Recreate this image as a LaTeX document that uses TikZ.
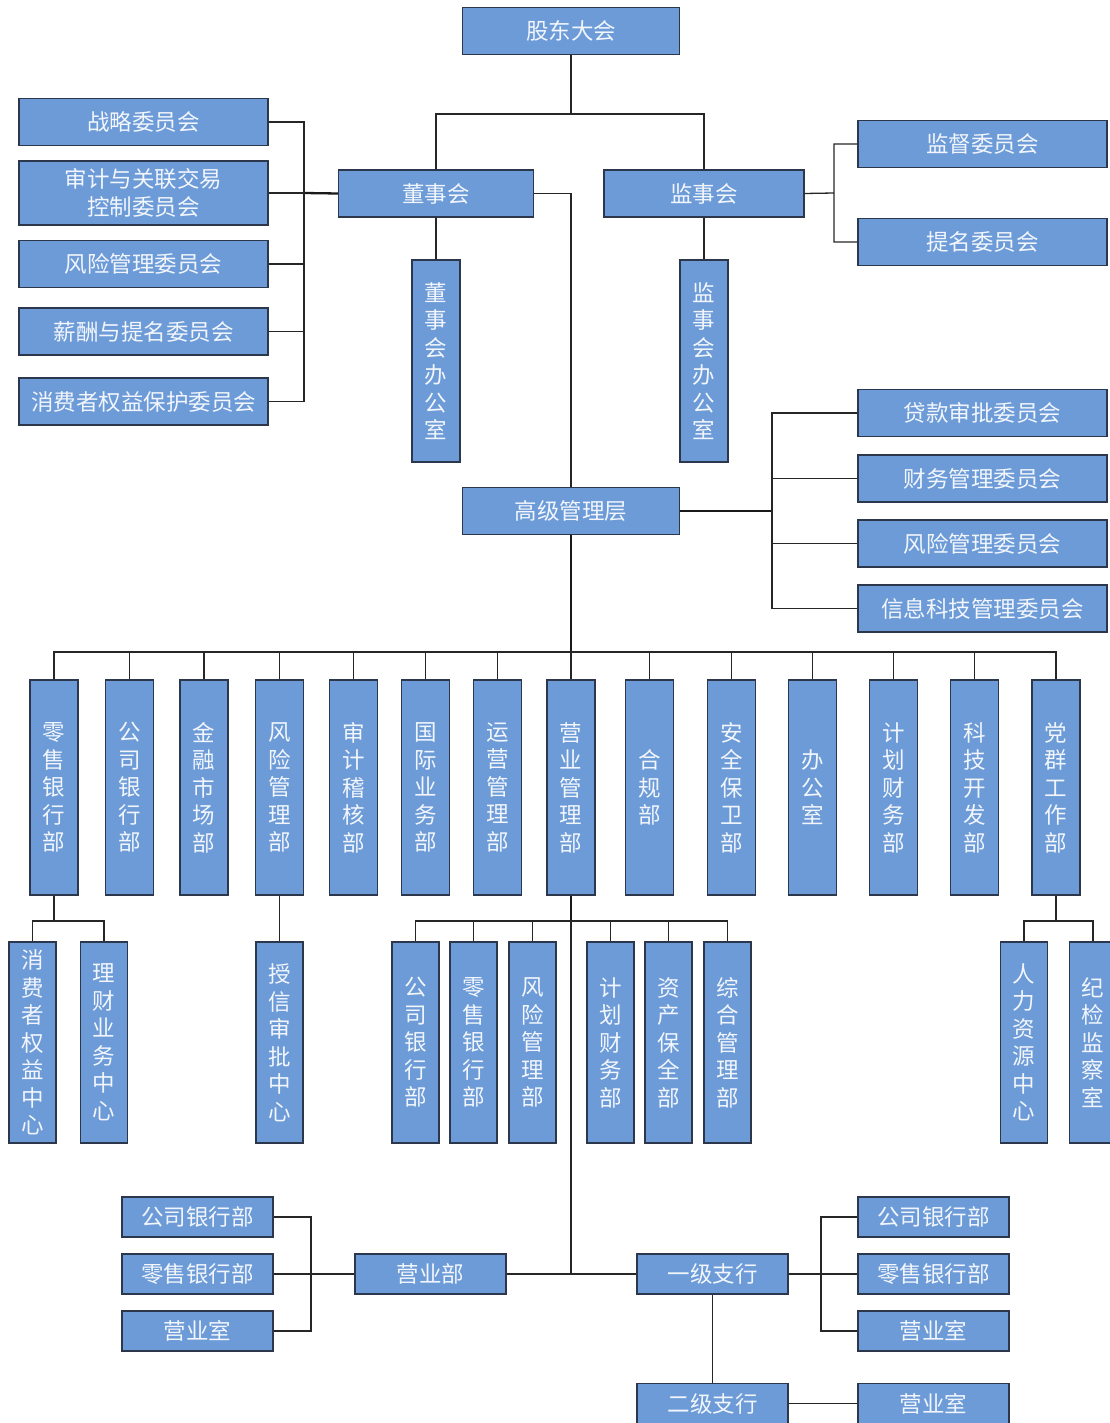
\documentclass[tikz,border=0pt]{standalone}
\usepackage{fontspec}
\newfontfamily\cjkfont{Noto Sans CJK SC}
\definecolor{boxblue}{RGB}{108,155,215}
\definecolor{boxedge}{RGB}{45,55,75}
\definecolor{boxtext}{RGB}{242,246,252}
\begin{document}
\begin{tikzpicture}[x=1pt,y=-1pt,
        box/.style={draw=boxedge,fill=boxblue,line width=1.3pt,inner sep=0pt,text=boxtext,
            font=\cjkfont\fontsize{22.5}{27.5}\selectfont,align=center},
        hbox/.style={box,minimum height=47},
        bbox/.style={box,minimum width=151,minimum height=40},
        vbox/.style={box,minimum width=48},
        link/.style={line width=1.3pt,black!85},
        trunk/.style={line width=2.3pt,black!90}]
        \useasboundingbox (0,0) rectangle (1110,1423);

        \node[hbox,minimum width=217] (gd) at (571,31) {股东大会};
        \node[hbox,minimum width=195] (dsh) at (436,193.5) {董事会};
        \node[hbox,minimum width=200] (jsh) at (704,193.5) {监事会};
        \node[vbox,minimum height=202] (dsb) at (436,361) {董\\事\\会\\办\\公\\室};
        \node[vbox,minimum height=202] (jsb) at (704,361) {监\\事\\会\\办\\公\\室};

        \node[hbox,minimum width=249] (zl) at (143.5,122) {战略委员会};
        \node[hbox,minimum width=249,minimum height=64] (sj) at (143.5,193) {审计与关联交易\\控制委员会};
        \node[hbox,minimum width=249] (fx) at (143.5,264) {风险管理委员会};
        \node[hbox,minimum width=249] (xc) at (143.5,331.5) {薪酬与提名委员会};
        \node[hbox,minimum width=249] (xf) at (143.5,401.5) {消费者权益保护委员会};

        \node[hbox,minimum width=249] (jd) at (982.5,144) {监督委员会};
        \node[hbox,minimum width=249] (tm) at (982.5,242) {提名委员会};

        \node[hbox,minimum width=217] (gj) at (571,511) {高级管理层};
        \node[hbox,minimum width=249] (dk) at (982.5,413) {贷款审批委员会};
        \node[hbox,minimum width=249] (cw) at (982.5,478.5) {财务管理委员会};
        \node[hbox,minimum width=249] (fg) at (982.5,543.5) {风险管理委员会};
        \node[hbox,minimum width=249] (kj) at (982.5,608.5) {信息科技管理委员会};

        \node[vbox,minimum height=215] (d1) at (54,787.5) {零\\售\\银\\行\\部};
        \node[vbox,minimum height=215] (d2) at (129.5,787.5) {公\\司\\银\\行\\部};
        \node[vbox,minimum height=215] (d3) at (204,787.5) {金\\融\\市\\场\\部};
        \node[vbox,minimum height=215] (d4) at (279.5,787.5) {风\\险\\管\\理\\部};
        \node[vbox,minimum height=215] (d5) at (353.5,787.5) {审\\计\\稽\\核\\部};
        \node[vbox,minimum height=215] (d6) at (425.5,787.5) {国\\际\\业\\务\\部};
        \node[vbox,minimum height=215] (d7) at (497.5,787.5) {运\\营\\管\\理\\部};
        \node[vbox,minimum height=215] (d8) at (571,787.5) {营\\业\\管\\理\\部};
        \node[vbox,minimum height=215] (d9) at (649.5,787.5) {合\\规\\部};
        \node[vbox,minimum height=215] (d10) at (731.5,787.5) {安\\全\\保\\卫\\部};
        \node[vbox,minimum height=215] (d11) at (812.5,787.5) {办\\公\\室};
        \node[vbox,minimum height=215] (d12) at (893.5,787.5) {计\\划\\财\\务\\部};
        \node[vbox,minimum height=215] (d13) at (974.5,787.5) {科\\技\\开\\发\\部};
        \node[vbox,minimum height=215] (d14) at (1056,787.5) {党\\群\\工\\作\\部};

        \node[vbox,minimum width=47,minimum height=201] (s1) at (32.5,1042.5) {消\\费\\者\\权\\益\\中\\心};
        \node[vbox,minimum width=47,minimum height=201] (s2) at (104,1042.5) {理\\财\\业\\务\\中\\心};
        \node[vbox,minimum width=47,minimum height=201] (s3) at (279.5,1042.5) {授\\信\\审\\批\\中\\心};
        \node[vbox,minimum width=47,minimum height=201] (y1) at (415.5,1042.5) {公\\司\\银\\行\\部};
        \node[vbox,minimum width=47,minimum height=201] (y2) at (473.5,1042.5) {零\\售\\银\\行\\部};
        \node[vbox,minimum width=47,minimum height=201] (y3) at (532.5,1042.5) {风\\险\\管\\理\\部};
        \node[vbox,minimum width=47,minimum height=201] (y4) at (610.5,1042.5) {计\\划\\财\\务\\部};
        \node[vbox,minimum width=47,minimum height=201] (y5) at (668.5,1042.5) {资\\产\\保\\全\\部};
        \node[vbox,minimum width=47,minimum height=201] (y6) at (727.5,1042.5) {综\\合\\管\\理\\部};
        \node[vbox,minimum width=47,minimum height=201] (s4) at (1024,1042.5) {人\\力\\资\\源\\中\\心};
        \node[vbox,minimum width=47,minimum height=201] (s5) at (1093,1042.5) {纪\\检\\监\\察\\室};

        \node[bbox] (yyb) at (430.5,1274) {营业部};
        \node[bbox] (yj) at (712.5,1274) {一级支行};
        \node[bbox] (ej) at (712.5,1403.5) {二级支行};
        \node[bbox] (lz1) at (197.5,1217) {公司银行部};
        \node[bbox] (lz2) at (197.5,1274) {零售银行部};
        \node[bbox] (lz3) at (197.5,1331) {营业室};
        \node[bbox] (rz1) at (933.5,1217) {公司银行部};
        \node[bbox] (rz2) at (933.5,1274) {零售银行部};
        \node[bbox] (rz3) at (933.5,1331) {营业室};
        \node[bbox] (ey) at (933.5,1403.5) {营业室};

        \coordinate (gj1) at (571,114);
        \coordinate (lb1) at (304,193);
        \coordinate (rb1) at (834,193);
        \coordinate (rb2) at (772,511);
        \coordinate (bus) at (571,652);
        \coordinate (ls) at (54,921);
        \coordinate (ys) at (571,921);
        \coordinate (dq) at (1056,921);
        \coordinate (yb) at (571,1274);
        \coordinate (lb3) at (311,1274);
        \coordinate (rb3) at (821,1274);

        \draw[link] (gd.south) -- (gj1);
        \draw[link] (dsh.north) |- (gj1) -| (jsh.north);
        \draw[link] (dsh.south) -- (dsb.north);
        \draw[link] (jsh.south) -- (jsb.north);
        \draw[trunk] (dsh.west) -- (lb1);
        \draw[link] (zl.east) -| (lb1) (sj.east) -- (lb1) (fx.east) -| (lb1)
            (xc.east) -| (lb1) (xf.east) -| (lb1);
        \draw[link] (dsh.east) -| (gj.north);
        \draw[link] (jsh.east) -- (rb1) (jd.west) -| (rb1) (tm.west) -| (rb1);
        \draw[trunk] (gj.east) -- (rb2);
        \draw[link] (dk.west) -| (rb2) (cw.west) -| (rb2) (fg.west) -| (rb2) (kj.west) -| (rb2);

        \draw[trunk] (gj.south) -- (bus);
        \draw[link] (bus) -| (d1.north) (bus) -| (d2.north) (bus) -| (d3.north)
            (bus) -| (d4.north) (bus) -| (d5.north) (bus) -| (d6.north) (bus) -| (d7.north)
            (bus) -- (d8.north) (bus) -| (d9.north) (bus) -| (d10.north) (bus) -| (d11.north)
            (bus) -| (d12.north) (bus) -| (d13.north) (bus) -| (d14.north);

        \draw[link] (d1.south) -- (ls) (ls) -| (s1.north) (ls) -| (s2.north);
        \draw[link] (d4.south) -- (s3.north);
        \draw[link] (d14.south) -- (dq) (dq) -| (s4.north) (dq) -| (s5.north);
        \draw[trunk] (d8.south) -- (ys);
        \draw[link] (ys) -| (y1.north) (ys) -| (y2.north) (ys) -| (y3.north)
            (ys) -| (y4.north) (ys) -| (y5.north) (ys) -| (y6.north);
        \draw[link] (ys) -- (yb);

        \draw[link] (yyb.east) -- (yj.west);
        \draw[link] (yyb.west) -- (lz2.east) (lz1.east) -| (lb3) (lz3.east) -| (lb3);
        \draw[link] (yj.east) -- (rz2.west) (rz1.west) -| (rb3) (rz3.west) -| (rb3);
        \draw[link] (yj.south) -- (ej.north);
        \draw[link] (ej.east) -- (ey.west);
\end{tikzpicture}
\end{document}
